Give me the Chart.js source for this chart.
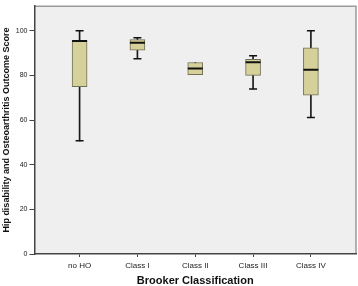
<!DOCTYPE html>
<html>
<head>
<meta charset="utf-8">
<script src="https://cdn.jsdelivr.net/npm/chart.js@4"></script>
<style>
  html, body { margin: 0; padding: 0; background: #fff; }
  #wrap { width: 358px; height: 286px; }
</style>
</head>
<body>
<div id="wrap"><canvas id="grfk"></canvas></div>
<script>
// Brooker classes and the five-number summaries
const classes = ['no HO', 'Class I', 'Class II', 'Class III', 'Class IV'];
const mins    = [50.7, 87.5, 80.3, 73.9, 61.2];
const q1s     = [74.9, 91.3, 80.3, 80.0, 71.1];
const medians = [95.4, 94.6, 83.1, 85.9, 82.5];
const q3s     = [95.6, 96.0, 85.8, 87.2, 92.4];
const maxs    = [100, 96.9, 85.8, 88.8, 100];
const yTicks  = [0, 20, 40, 60, 80, 100];

const whiskers = classes.map((c, i) => ({ x: i, y: [mins[i], maxs[i]] }));
const boxes = classes.map((c, i) => ({ x: i, y: [q1s[i], q3s[i]] }));
const mids = classes.map((c, i) => ({ x: i, y: medians[i] }));
const lowCaps = classes.map((c, i) => ({ x: i, y: mins[i] < q1s[i] ? mins[i] : null }));
const highCaps = classes.map((c, i) => ({ x: i, y: maxs[i] > q3s[i] ? maxs[i] : null }));

// grey plot background + frame like the SPSS output
const frame = {
    id: 'frame',
    beforeDraw(chart) {
        const { ctx, chartArea: a } = chart;
        ctx.save();
        ctx.fillStyle = '#efefef';
        ctx.fillRect(a.left, a.top, a.right - a.left, a.bottom - a.top);
        ctx.strokeStyle = '#9a9a9a';
        ctx.lineWidth = 1.5;
        ctx.beginPath();
        ctx.moveTo(a.left, a.top);
        ctx.lineTo(a.right, a.top);
        ctx.lineTo(a.right, a.bottom);
        ctx.stroke();
        ctx.restore();
    }
};

const capPoint = {
    type: 'line', showLine: false, pointStyle: 'line',
    pointRadius: 4, pointHoverRadius: 4, borderColor: '#111', borderWidth: 1.5
};

const ct = document.getElementById('grfk').getContext('2d');
new Chart(ct, {
    type: 'bar',
    data: {
        datasets: [
            { data: whiskers, backgroundColor: '#1a1a1a', borderWidth: 0, barThickness: 1, order: 5 },
            { data: boxes, backgroundColor: '#d6d09a', borderColor: '#707055', borderWidth: 1,
              borderSkipped: false, barThickness: 15, order: 4 },
            { type: 'line', data: mids, showLine: false, pointStyle: 'line', pointRadius: 7.5,
              pointHoverRadius: 7.5, borderColor: '#111', borderWidth: 2, order: 1 },
            Object.assign({ data: lowCaps, order: 2 }, capPoint),
            Object.assign({ data: highCaps, order: 2 }, capPoint)
        ]
    },
    options: {
        responsive: true,
        maintainAspectRatio: false,
        animation: false,
        layout: { autoPadding: false, padding: { top: 2, right: 2, left: 1, bottom: 0 } },
        datasets: { bar: { grouped: false } },
        plugins: { legend: { display: false }, tooltip: { enabled: false } },
        scales: {
            x: {
                type: 'linear', min: -0.78, max: 4.78, offset: false,
                afterBuildTicks: s => { s.ticks = classes.map((c, i) => ({ value: i })); },
                ticks: { callback: v => classes[v], color: '#222', font: { family: 'Liberation Sans', size: 8, lineHeight: 1 },
                         padding: 5, maxRotation: 0 },
                grid: { drawOnChartArea: false, offset: false, tickLength: 3, color: '#444' },
                border: { color: '#444', width: 1.5 },
                title: { display: true, text: 'Brooker Classification', color: '#111',
                         font: { family: 'Liberation Sans', size: 11, weight: 'bold', lineHeight: 1 }, padding: { top: 0, bottom: 0 } }
            },
            y: {
                min: 0, max: 111,
                afterBuildTicks: s => { s.ticks = yTicks.map(v => ({ value: v })); },
                ticks: { color: '#222', font: { family: 'Liberation Sans', size: 7 }, padding: 2 },
                grid: { drawOnChartArea: false, tickLength: 5, color: '#444' },
                border: { color: '#444', width: 1.5 },
                title: { display: true, text: 'Hip disability and Osteoarthritis Outcome Score', color: '#111',
                         font: { family: 'Liberation Sans', size: 9, weight: 'bold' }, padding: { top: 0, bottom: 2 } }
            }
        }
    },
    plugins: [frame]
});
</script>
</body>
</html>
